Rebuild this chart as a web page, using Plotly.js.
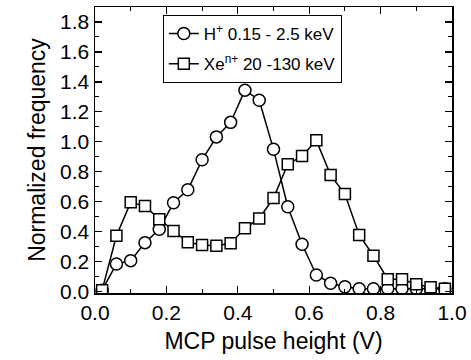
<!DOCTYPE html>
<html>
<head>
<meta charset="utf-8">
<script src="https://cdn.plot.ly/plotly-3.0.1.min.js"></script>
<style>html,body{margin:0;padding:0;background:#fff}#chart{width:471px;height:360px}</style>
</head>
<body>
<div id="chart"></div>
<script>
var pulseHeight = [0.02,0.06,0.10,0.14,0.18,0.22,0.26,0.30,0.34,0.38,0.42,0.46,0.50,0.54,0.58,0.62,0.66,0.70,0.74,0.78,0.82,0.86,0.90,0.94,0.98];
var hFreq  = [0.01,0.185,0.207,0.327,0.416,0.593,0.68,0.88,1.033,1.13,1.345,1.278,0.95,0.567,0.316,0.111,0.056,0.033,0.02,0.02,0.02,0.02,0.02,0.02,0.02];
var xeFreq = [0.01,0.373,0.596,0.571,0.483,0.405,0.33,0.311,0.307,0.323,0.423,0.489,0.625,0.851,0.905,1.01,0.778,0.651,0.378,0.24,0.083,0.083,0.05,0.03,0.02];
var seriesNames = ['H<sup>+</sup> 0.15 - 2.5 keV', 'Xe<sup>n+</sup> 20 -130 keV'];
var xTitle = 'MCP pulse height (V)';
var yTitle = 'Normalized frequency';

var lineStyle = {color:'#000', width:1.5};
var traces = [
  {x: pulseHeight, y: hFreq, name: seriesNames[0], legendgroup:'a', mode:'lines+markers', type:'scatter',
   line: lineStyle, marker:{symbol:'circle', size:12, color:'#fff', line:{color:'#000', width:1.5}}},
  {x: pulseHeight, y: xeFreq, name: seriesNames[1], legendgroup:'b', mode:'lines+markers', type:'scatter',
   line: lineStyle, marker:{symbol:'square', size:11, color:'#fff', line:{color:'#000', width:1.5}}}
];
var fontFam = 'Liberation Sans, Arial, sans-serif';
var axisCommon = {
  showgrid:false, zeroline:false, showline:true, linecolor:'#000', linewidth:1.5, mirror:'ticks',
  ticks:'inside', ticklen:7, tickwidth:1.2, tickcolor:'#000',
  tickfont:{family:fontFam, size:21, color:'#000'}
};
var layout = {
  width:471, height:360,
  margin:{l:95, r:19, t:7, b:67},
  paper_bgcolor:'#fff', plot_bgcolor:'#fff',
  showlegend:true,
  legend:{x:0.19, y:0.972, xanchor:'left', yanchor:'top', bgcolor:'#fff', bordercolor:'#000', borderwidth:1,
          font:{family:fontFam, size:17, color:'#000'}, traceorder:'grouped', tracegroupgap:5},
  xaxis: Object.assign({}, axisCommon, {
    range:[0,1.0], dtick:0.2, tick0:0, tickformat:'.1f',
    minor:{ticks:'inside', dtick:0.1, ticklen:4, tickcolor:'#000', tickwidth:1},
    title:{text:xTitle, font:{family:fontFam, size:23, color:'#000'}, standoff:10}
  }),
  yaxis: Object.assign({}, axisCommon, {
    range:[-0.009,1.9], dtick:0.2, tick0:0, tickformat:'.1f',
    minor:{ticks:'inside', dtick:0.1, ticklen:4, tickcolor:'#000', tickwidth:1},
    title:{text:yTitle, font:{family:fontFam, size:23, color:'#000'}, standoff:8}
  })
};
Plotly.newPlot('chart', traces, layout, {displayModeBar:false, staticPlot:true});
</script>
</body>
</html>
